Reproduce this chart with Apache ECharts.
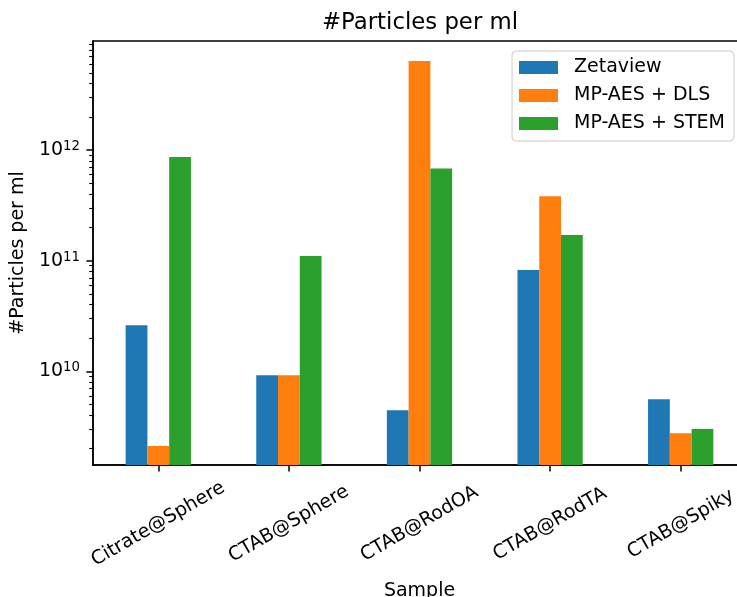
<!DOCTYPE html>
<html><head><meta charset="utf-8">
<script src="https://cdn.jsdelivr.net/npm/echarts@6/dist/echarts.min.js"></script>
<style>html,body{margin:0;padding:0;background:#fff}#c{width:737px;height:597px}</style>
</head><body><div id="c"></div>
<script>
const categories = ['Citrate@Sphere', 'CTAB@Sphere', 'CTAB@RodOA', 'CTAB@RodTA', 'CTAB@Spiky'];
const seriesNames = ['Zetaview', 'MP-AES + DLS', 'MP-AES + STEM'];
const zetaview = [2.60e10, 9.2e9, 4.44e9, 8.22e10, 5.58e9];
const mpaesDls = [2.11e9, 9.2e9, 6.39e12, 3.83e11, 2.75e9];
const mpaesStem = [8.68e11, 1.10e11, 6.82e11, 1.71e11, 3.01e9];
const majorTicks = [1e10, 1e11, 1e12];
const minorTicks = [2e9, 3e9, 4e9, 5e9, 6e9, 7e9, 8e9, 9e9,
  2e10, 3e10, 4e10, 5e10, 6e10, 7e10, 8e10, 9e10,
  2e11, 3e11, 4e11, 5e11, 6e11, 7e11, 8e11, 9e11,
  2e12, 3e12, 4e12, 5e12, 6e12, 7e12, 8e12, 9e12];
const yMin = 1.42e9, yMax = 9.69e12;

const FONT = 'DejaVu Sans';
const colors = ['#1f77b4', '#ff7f0e', '#2ca02c'];
const values = [zetaview, mpaesDls, mpaesStem];

const chart = echarts.init(document.getElementById('c'), null, { renderer: 'canvas' });
const yBase = {
  type: 'log', logBase: 10, min: yMin, max: yMax, gridIndex: 0, position: 'left',
  splitLine: { show: false }
};
chart.setOption({
  animation: false,
  backgroundColor: '#ffffff',
  textStyle: { fontFamily: FONT },
  title: {
    text: '#Particles per ml', left: 420, textAlign: 'center', top: 12, padding: 0,
    textStyle: { fontFamily: FONT, fontSize: 22.8, fontWeight: 'normal', color: '#000' }
  },
  legend: {
    orient: 'vertical', left: 512, top: 51,
    itemWidth: 39, itemHeight: 13, itemGap: 9,
    padding: [7, 9, 8, 7],
    borderColor: '#cccccc', borderWidth: 1, borderRadius: 4,
    backgroundColor: 'rgba(255,255,255,0.8)',
    icon: 'rect',
    textStyle: { fontFamily: FONT, fontSize: 19, color: '#000', lineHeight: 19, padding: [0, 0, 0, 11] },
    data: seriesNames
  },
  grid: {
    left: 93, top: 41, width: 653, height: 424,
    show: true, borderColor: '#000', borderWidth: 1.5, backgroundColor: 'transparent',
    outerBoundsMode: 'none', containLabel: false
  },
  xAxis: {
    type: 'category', data: categories, boundaryGap: true,
    name: 'Sample', nameLocation: 'middle', nameGap: 117,
    nameTextStyle: { fontFamily: FONT, fontSize: 19, color: '#000' },
    axisLine: { show: true, lineStyle: { color: '#000', width: 1.5 } },
    axisTick: { show: true, alignWithLabel: true, length: 6.6, lineStyle: { color: '#000', width: 1.5 } },
    axisLabel: {
      rotate: 30, align: 'center', verticalAlign: 'middle', margin: 59,
      fontFamily: FONT, fontSize: 19, color: '#000', interval: 0, hideOverlap: false
    },
    splitLine: { show: false }
  },
  yAxis: [
    Object.assign({}, yBase, {
      name: '#Particles per ml', nameLocation: 'middle', nameGap: 64, nameRotate: 90,
      nameTextStyle: { fontFamily: FONT, fontSize: 19, color: '#000' },
      axisLine: { show: true, lineStyle: { color: '#000', width: 1.5 } },
      axisTick: { show: true, length: 6.6, customValues: majorTicks, lineStyle: { color: '#000', width: 1.5 } },
      axisLabel: {
        show: true, margin: 13, customValues: majorTicks, color: '#000',
        formatter: function (v) {
          const e = Math.round(Math.log10(v));
          return '{b|10}{s|' + e + '}';
        },
        rich: {
          b: { fontFamily: FONT, fontSize: 19, lineHeight: 20, color: '#000' },
          s: { fontFamily: FONT, fontSize: 13.3, lineHeight: 13, verticalAlign: 'top', color: '#000' }
        }
      }
    }),
    Object.assign({}, yBase, {
      axisLine: { show: false },
      axisTick: { show: true, length: 3.8, customValues: minorTicks, lineStyle: { color: '#000', width: 1.1 } },
      axisLabel: { show: false, customValues: minorTicks }
    })
  ],
  series: seriesNames.map(function (name, i) {
    return {
      name: name, type: 'bar', yAxisIndex: 0, data: values[i],
      barGap: '0%', barCategoryGap: '50%',
      itemStyle: { color: colors[i] },
      clip: true
    };
  })
});
</script>
</body></html>
